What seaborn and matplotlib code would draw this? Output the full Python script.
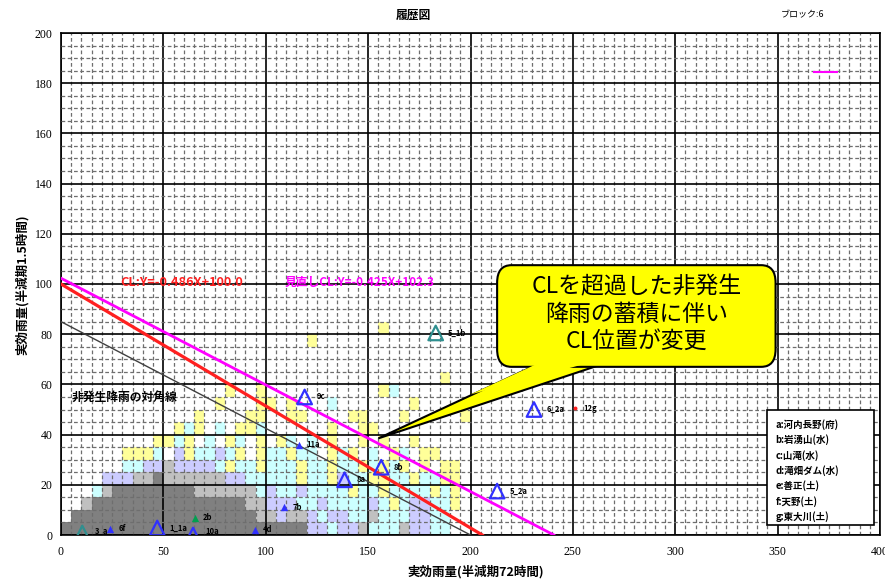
import numpy as np
import pandas as pd
import matplotlib
matplotlib.use("Agg")
import matplotlib.pyplot as plt
import seaborn as sns
from matplotlib.colors import ListedColormap
from matplotlib.patches import FancyBboxPatch, Polygon, Rectangle
from matplotlib.ticker import MultipleLocator

JP = ["Noto Sans CJK JP", "DejaVu Sans"]
plt.rcParams["font.family"] = JP

# ---- data -------------------------------------------------------------
# rainfall frequency cells, 5 x 5 mm bins, bottom row first
# '.' none, D dark gray, G gray, L lavender, C cyan, Y yellow
cell_rows = [
    "DDDDDDDDDDDDDDDDDDDDDDDDLLCLLGCCCGLLCC..",
    ".DDDDDDDDDDDDDDDDDDGGLGGLCLLCCGCCCLLCC..",
    "..GDDDDDDDDDDDDDDDGGLLLCCLCCCCLCYCLLCCY.",
    "...CGDDDDDDDDGGGGGGCLCCLCCCCYCCYCCCCYCY.",
    "....LLLGGDGGGGGGLLCCCCCYCCYLCCYYCCYCCYY.",
    "......CCLLGLLLLCYCCYCCCYCCYCCYCYCY.Y.YY.",
    "......YYYC.LYCCLCY.YCCYCC.YCY.C.YC.YY...",
    ".........YYCY.C.YC.Y.YC.C.Y..Y.Y..Y.....",
    "...........YCY.C.YYC......Y..YY.........",
    ".............Y....YY..YY....YY...Y.....Y",
    "...............Y...YY.Y...C.......Y.....",
    "................Y..Y...........YC.......",
    ".....................................Y..",
    "........................................",
    "........................................",
    "........................Y...............",
    "...............................Y........",
]
cell_codes = {".": 0, "D": 1, "G": 2, "L": 3, "C": 4, "Y": 5}
cell_colors = ["#808080", "#c0c0c0", "#ccccff", "#ccffff", "#ffff99"]
cell_size = 5

# critical lines
cl_slope, cl_intercept = -0.486, 100.0
new_cl_slope, new_cl_intercept = -0.425, 102.3
diag_start, diag_end = (0, 85), (200, 0)

# observed points
big_x = [47, 64.5, 119, 138.5, 156.4, 213, 231]
big_y = [2.8, 0, 55, 22, 27, 17.5, 50]
big_lab = ["1_1a", "10a", "9c", "8a", "8b", "5_2a", "6_2a"]
teal_x = [10.4, 183]
teal_y = [0.8, 80.5]
teal_lab = ["3_a", "5_1b"]
small_x = [24, 94.6, 109, 116]
small_y = [2.4, 2, 11, 36]
small_lab = ["6f", "4d", "7b", "11a"]
green_x = [65.4]
green_y = [6.8]
green_lab = ["2b"]
red_x = [251]
red_y = [50.5]
red_lab = ["12g"]

legend_lines = ["a:河内長野(府)", "b:岩湧山(水)", "c:山滝(水)", "d:滝畑ダム(水)",
                "e:善正(土)", "f:天野(土)", "g:東大川(土)"]

# ---- figure -----------------------------------------------------------
fig = plt.figure(figsize=(8.85, 5.85), dpi=100)
ax = fig.add_axes([61 / 885, 50 / 585, 819 / 885, 502 / 585])

# frequency cells
grid = np.array([[cell_codes[c] for c in row.ljust(40, ".")[:40]] for row in cell_rows])
z = np.ma.masked_equal(grid, 0)
xe = np.arange(grid.shape[1] + 1) * cell_size
ye = np.arange(grid.shape[0] + 1) * cell_size
ax.pcolormesh(xe, ye, z, cmap=ListedColormap(cell_colors), vmin=0.5, vmax=5.5, zorder=0.5)

ax.set_xlim(0, 400)
ax.set_ylim(0, 200)
ax.set_xticks(np.arange(0, 401, 50))
ax.set_yticks(np.arange(0, 201, 20))
ax.xaxis.set_minor_locator(MultipleLocator(5))
ax.yaxis.set_minor_locator(MultipleLocator(5))
ax.set_axisbelow(False)
ax.grid(which="minor", color="#6e6e6e", ls=(0, (3, 2)), lw=0.9)
ax.grid(which="major", color="black", lw=1.2)
ax.tick_params(which="both", length=0, labelsize=8.5, pad=8)
ax.tick_params(axis="y", pad=6)
for lab in ax.get_xticklabels() + ax.get_yticklabels():
    lab.set_family("Liberation Serif")
for s in ax.spines.values():
    s.set_color("black")
    s.set_linewidth(1.2)

# lines
sns.lineplot(x=[0, -cl_intercept / cl_slope], y=[cl_intercept, 0], color="#ff2020",
             lw=2.3, ax=ax, zorder=4)
sns.lineplot(x=[0, -new_cl_intercept / new_cl_slope], y=[new_cl_intercept, 0],
             color="#ff00ff", lw=2.0, ax=ax, zorder=4)
sns.lineplot(x=[diag_start[0], diag_end[0]], y=[diag_start[1], diag_end[1]],
             color="#404040", lw=1.0, ax=ax, zorder=4)
sns.lineplot(x=[368, 379], y=[184.5, 184.5], color="#ff00ff", lw=1.5, ax=ax, zorder=4)

# points
sns.scatterplot(x=big_x, y=big_y, marker="^", s=110, fc="none", ec="#3030ff",
                linewidth=1.6, ax=ax, zorder=5)
sns.scatterplot(x=teal_x, y=teal_y, marker="^", s=110, fc="none", ec="#2f8f8f",
                linewidth=1.6, ax=ax, zorder=5)
sns.scatterplot(x=small_x, y=small_y, marker="^", s=28, color="#3030ff",
                linewidth=0, ax=ax, zorder=5)
sns.scatterplot(x=green_x, y=green_y, marker="^", s=28, color="#00a050",
                linewidth=0, ax=ax, zorder=5)
sns.scatterplot(x=red_x, y=red_y, marker="o", s=8, color="#ff2020",
                linewidth=0, ax=ax, zorder=5)
for xs, ys, labs, dx in [(big_x, big_y, big_lab, 6), (teal_x, teal_y, teal_lab, 6),
                         (small_x, small_y, small_lab, 4), (green_x, green_y, green_lab, 4),
                         (red_x, red_y, red_lab, 4)]:
    for xv, yv, t in zip(xs, ys, labs):
        ax.text(xv + dx, max(yv, 1.5), t, fontsize=5.5, fontweight="bold",
                va="center", ha="left", zorder=6)

# line captions
ax.text(29, 100.5, "CL:Y=-0.486X+100.0", color="#ff2020", fontsize=9.2,
        fontweight="bold", va="center", ha="left", zorder=6)
ax.text(109, 100.5, "見直しCL:Y=-0.425X+102.3", color="#ff00ff", fontsize=8.5,
        fontweight="bold", va="center", ha="left", zorder=6)
ax.text(5, 55, "非発生降雨の対角線", fontsize=8.5, fontweight="bold",
        va="center", ha="left", zorder=6)

# callout
tail = [(234, 68.5), (266, 68.5), (155, 38.5)]
ax.add_patch(Polygon(tail, closed=True, fc="#ffff00", ec="black", lw=1.5, zorder=7))
ax.add_patch(FancyBboxPatch((213, 67), 136, 40.5,
                            boxstyle="round,pad=0,rounding_size=7",
                            fc="#ffff00", ec="black", lw=1.5, zorder=8))
ax.add_patch(Polygon([(236, 69.5), (262, 69.5), (200, 56)], closed=True,
                     fc="#ffff00", ec="none", zorder=9))
ax.text(281, 88, "CLを超過した非発生\n降雨の蓄積に伴い\nCL位置が変更",
        fontsize=16.5, ha="center", va="center", linespacing=1.25, zorder=10)

# station legend
ax.add_patch(Rectangle((345, 4), 52, 46, fc="white", ec="black", lw=1.2, zorder=7))
for i, t in enumerate(legend_lines):
    ax.text(349, 44 - i * 6.1, t, fontsize=6.8, fontweight="bold",
            va="center", ha="left", zorder=8)

# titles and axis captions
fig.text(413 / 885, 1 - 15 / 585, "履歴図", fontsize=8.5, fontweight="bold",
         ha="center", va="center")
fig.text(803 / 885, 1 - 15 / 585, "ブロック:6", fontsize=6.5, ha="center", va="center")
fig.text(476 / 885, 1 - 572 / 585, "実効雨量(半減期72時間)", fontsize=9,
         fontweight="bold", ha="center", va="center")
fig.text(22 / 885, 1 - 285 / 585, "実効雨量(半減期1.5時間)", fontsize=9,
         fontweight="bold", ha="center", va="center", rotation=90)

fig.savefig("out.png", dpi=100)
